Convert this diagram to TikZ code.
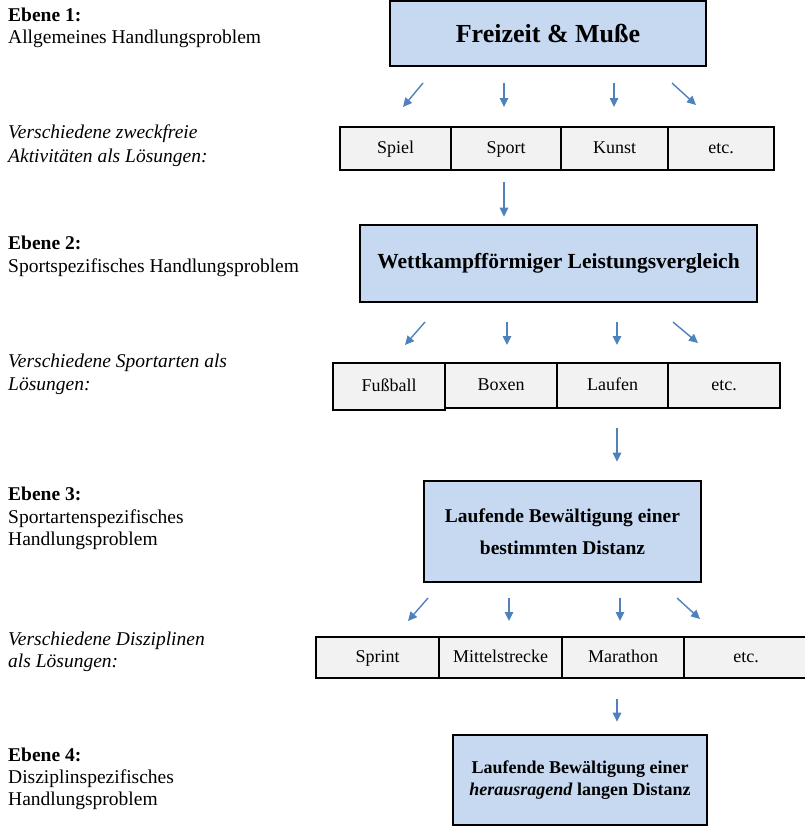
\documentclass[tikz,border=0pt]{standalone}
\usepackage{fontspec}
\setmainfont{Liberation Serif}
\usetikzlibrary{arrows.meta}
\definecolor{boxblue}{HTML}{C6D9F1}
\definecolor{cellgray}{HTML}{F2F2F2}
\definecolor{arrowblue}{HTML}{4F81BD}
\begin{document}
\begin{tikzpicture}[x=1pt,y=-1pt,
  mainbox/.style={draw=black, line width=2.6pt, fill=boxblue, inner sep=0pt, align=center},
  cell/.style={draw=black, line width=2.6pt, fill=cellgray, inner sep=0pt,
               text height=13pt, text depth=4pt, font=\fontsize{18}{21}\selectfont},
  lbl/.style={anchor=base west, inner sep=0pt, font=\fontsize{19.5}{22}\selectfont},
  arr/.style={draw=arrowblue, line width=1.4pt, -{Triangle[length=9pt,width=8.5pt]}}
]
\useasboundingbox (0,0) rectangle (805,827);

% ---------- left labels ----------
\node[lbl] (e1a) at (8,21) {\bfseries Ebene 1:};
\node[lbl] (e1b) at (8,43) {Allgemeines Handlungsproblem};
\node[lbl] (l1a) at (8,138) {\itshape Verschiedene zweckfreie};
\node[lbl] (l1b) at (8,162) {\itshape Aktivitäten als Lösungen:};

\node[lbl] (e2a) at (8,249) {\bfseries Ebene 2:};
\node[lbl] (e2b) at (8,272) {Sportspezifisches Handlungsproblem};
\node[lbl] (l2a) at (8,367) {\itshape Verschiedene Sportarten als};
\node[lbl] (l2b) at (8,390) {\itshape Lösungen:};

\node[lbl] (e3a) at (8,500) {\bfseries Ebene 3:};
\node[lbl] (e3b) at (8,523) {Sportartenspezifisches};
\node[lbl] (e3c) at (8,545) {Handlungsproblem};
\node[lbl] (l3a) at (8,645) {\itshape Verschiedene Disziplinen};
\node[lbl] (l3b) at (8,667) {\itshape als Lösungen:};

\node[lbl] (e4a) at (8,761) {\bfseries Ebene 4:};
\node[lbl] (e4b) at (8,783) {Disziplinspezifisches};
\node[lbl] (e4c) at (8,805) {Handlungsproblem};

% ---------- main boxes ----------
\node[mainbox, minimum width=316pt, minimum height=65pt,
      font=\fontsize{26}{30}\selectfont\bfseries] (fm) at (548,33.5) {Freizeit \& Muße};
\node[mainbox, minimum width=397pt, minimum height=77pt,
      font=\fontsize{21.5}{26}\selectfont\bfseries] (wk) at (558.5,263.5) {Wettkampfförmiger Leistungsvergleich};
\node[mainbox, minimum width=277pt, minimum height=101pt,
      font=\fontsize{19.5}{32}\selectfont\bfseries] (lb) at (562.5,531.5) {Laufende Bewältigung einer\\bestimmten Distanz};
\node[mainbox, minimum width=254pt, minimum height=90pt,
      font=\fontsize{18}{22}\selectfont\bfseries] (lh) at (580,780) {Laufende Bewältigung einer\\\textit{herausragend} langen Distanz};

% ---------- row 1 cells ----------
\node[cell, minimum width=111pt, minimum height=43pt] (spiel) at (395.5,148.5) {Spiel};
\node[cell, minimum width=110pt, minimum height=43pt] (sport) at (506,148.5) {Sport};
\node[cell, minimum width=107pt, minimum height=43pt] (kunst) at (614.5,148.5) {Kunst};
\node[cell, minimum width=106pt, minimum height=43pt] (etc1) at (721,148.5) {etc.};

% ---------- row 2 cells ----------
\node[cell, minimum width=112pt, minimum height=47pt] (fussball) at (389,386.5) {Fußball};
\node[cell, minimum width=112pt, minimum height=45pt] (boxen) at (501,385.5) {Boxen};
\node[cell, minimum width=111pt, minimum height=45pt] (laufen) at (612.5,385.5) {Laufen};
\node[cell, minimum width=112pt, minimum height=45pt] (etc2) at (724,385.5) {etc.};

% ---------- row 3 cells ----------
\node[cell, minimum width=123pt, minimum height=41pt] (sprint) at (377.5,657.5) {Sprint};
\node[cell, minimum width=123pt, minimum height=41pt] (mittel) at (500.5,657.5) {Mittelstrecke};
\node[cell, minimum width=122pt, minimum height=41pt] (marathon) at (623,657.5) {Marathon};
\node[cell, minimum width=124pt, minimum height=41pt] (etc3) at (746,657.5) {etc.};

% ---------- arrow end points ----------
\coordinate (a11s) at (423,83);  \coordinate (a11e) at (403,107);
\coordinate (a12s) at (504,83);  \coordinate (a12e) at (504,107);
\coordinate (a13s) at (614,83);  \coordinate (a13e) at (614,107);
\coordinate (a14s) at (672,83);  \coordinate (a14e) at (696,105);

\coordinate (a21s) at (425,322); \coordinate (a21e) at (405,345);
\coordinate (a22s) at (507,322); \coordinate (a22e) at (507,345);
\coordinate (a23s) at (617,322); \coordinate (a23e) at (617,345);
\coordinate (a24s) at (673,322); \coordinate (a24e) at (698,343);

\coordinate (a31s) at (428,598); \coordinate (a31e) at (408,621);
\coordinate (a32s) at (509,598); \coordinate (a32e) at (509,621);
\coordinate (a33s) at (620,598); \coordinate (a33e) at (620,621);
\coordinate (a34s) at (677,598); \coordinate (a34e) at (700,619);

% ---------- arrows box -> solutions ----------
\draw[arr] (a11s) -- (a11e);
\draw[arr] (a12s) -- (a12e);
\draw[arr] (a13s) -- (a13e);
\draw[arr] (a14s) -- (a14e);

\draw[arr] (a21s) -- (a21e);
\draw[arr] (a22s) -- (a22e);
\draw[arr] (a23s) -- (a23e);
\draw[arr] (a24s) -- (a24e);

\draw[arr] (a31s) -- (a31e);
\draw[arr] (a32s) -- (a32e);
\draw[arr] (a33s) -- (a33e);
\draw[arr] (a34s) -- (a34e);

% ---------- arrows solution -> next level ----------
\draw[arr, shorten <=11pt, shorten >=7pt] ([xshift=-2pt]sport.south) -- ([xshift=-2pt]sport.south |- wk.north);
\draw[arr, shorten <=19pt, shorten >=18pt] ([xshift=4.5pt]laufen.south) -- ([xshift=4.5pt]laufen.south |- lb.north);
\draw[arr, shorten <=20pt, shorten >=12pt] ([xshift=-6pt]marathon.south) -- ([xshift=-6pt]marathon.south |- lh.north);
\end{tikzpicture}
\end{document}
